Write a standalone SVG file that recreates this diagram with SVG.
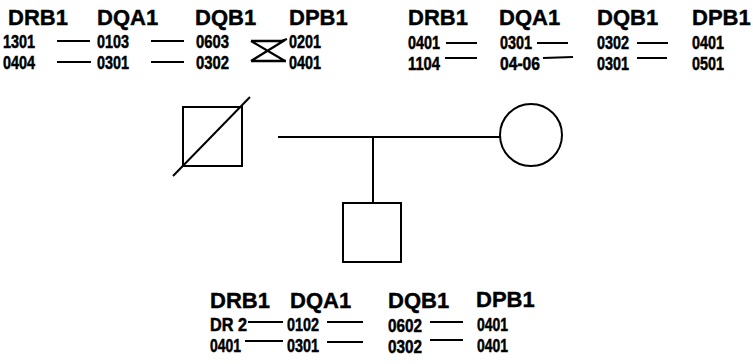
<svg xmlns="http://www.w3.org/2000/svg" width="753" height="364" viewBox="0 0 753 364">
  <style>
    .hd { font-family: "Liberation Sans", Arial, sans-serif; font-weight: bold; font-size: 22px; fill: #000; stroke: #000; stroke-width: 0.4; }
    .al { font-family: "Liberation Sans", Arial, sans-serif; font-weight: bold; font-size: 18.5px; fill: #000; stroke: #000; stroke-width: 0.5; }
    .ln { stroke: #000; stroke-width: 2; fill: none; }
    .sym { stroke: #000; stroke-width: 2; fill: #fff; }
  </style>
  <rect width="753" height="364" fill="#fff"/>

  <!-- Father's HLA haplotypes -->
  <g id="father-haplotypes">
    <text class="hd" x="8" y="25">DRB1</text>
    <text class="hd" x="97" y="25">DQA1</text>
    <text class="hd" x="195" y="25">DQB1</text>
    <text class="hd" x="289" y="25">DPB1</text>
    <text class="al" x="3" y="48" textLength="32" lengthAdjust="spacingAndGlyphs">1301</text>
    <text class="al" x="3" y="69" textLength="32" lengthAdjust="spacingAndGlyphs">0404</text>
    <text class="al" x="97" y="48" textLength="32" lengthAdjust="spacingAndGlyphs">0103</text>
    <text class="al" x="97" y="69" textLength="32" lengthAdjust="spacingAndGlyphs">0301</text>
    <text class="al" x="196" y="48" textLength="33" lengthAdjust="spacingAndGlyphs">0603</text>
    <text class="al" x="196" y="69" textLength="33" lengthAdjust="spacingAndGlyphs">0302</text>
    <text class="al" x="289" y="48" textLength="32" lengthAdjust="spacingAndGlyphs">0201</text>
    <text class="al" x="289" y="69" textLength="32" lengthAdjust="spacingAndGlyphs">0401</text>
  </g>

  <!-- Mother's HLA haplotypes -->
  <g id="mother-haplotypes">
    <text class="hd" x="408" y="25">DRB1</text>
    <text class="hd" x="499" y="25">DQA1</text>
    <text class="hd" x="597" y="25">DQB1</text>
    <text class="hd" x="692" y="25">DPB1</text>
    <text class="al" x="408" y="49" textLength="32" lengthAdjust="spacingAndGlyphs">0401</text>
    <text class="al" x="408" y="70" textLength="32" lengthAdjust="spacingAndGlyphs">1104</text>
    <text class="al" x="500" y="49" textLength="32" lengthAdjust="spacingAndGlyphs">0301</text>
    <text class="al" x="500" y="70" textLength="40" lengthAdjust="spacingAndGlyphs">04-06</text>
    <text class="al" x="597" y="49" textLength="32" lengthAdjust="spacingAndGlyphs">0302</text>
    <text class="al" x="597" y="70" textLength="32" lengthAdjust="spacingAndGlyphs">0301</text>
    <text class="al" x="692" y="49" textLength="32" lengthAdjust="spacingAndGlyphs">0401</text>
    <text class="al" x="692" y="70" textLength="32" lengthAdjust="spacingAndGlyphs">0501</text>
  </g>

  <!-- Son's HLA haplotypes -->
  <g id="son-haplotypes">
    <text class="hd" x="210" y="308">DRB1</text>
    <text class="hd" x="290" y="308">DQA1</text>
    <text class="hd" x="388" y="308">DQB1</text>
    <text class="hd" x="476" y="307">DPB1</text>
    <text class="al" x="210" y="331" textLength="37" lengthAdjust="spacingAndGlyphs">DR 2</text>
    <text class="al" x="210" y="352" textLength="31" lengthAdjust="spacingAndGlyphs">0401</text>
    <text class="al" x="287" y="331" textLength="32" lengthAdjust="spacingAndGlyphs">0102</text>
    <text class="al" x="287" y="352" textLength="32" lengthAdjust="spacingAndGlyphs">0301</text>
    <text class="al" x="388" y="332" textLength="34" lengthAdjust="spacingAndGlyphs">0602</text>
    <text class="al" x="388" y="353" textLength="34" lengthAdjust="spacingAndGlyphs">0302</text>
    <text class="al" x="477" y="331" textLength="31" lengthAdjust="spacingAndGlyphs">0401</text>
    <text class="al" x="477" y="352" textLength="31" lengthAdjust="spacingAndGlyphs">0401</text>
  </g>

  <!-- Pedigree symbols -->
  <g id="father">
    <rect class="sym" x="183" y="107" width="59" height="59"/>
    <line class="ln" x1="173" y1="176" x2="250" y2="97" stroke-width="2.5"/>
  </g>
  <g id="mother">
    <circle class="sym" cx="531" cy="135" r="31"/>
  </g>
  <g id="son">
    <rect class="sym" x="343" y="203" width="58" height="59"/>
  </g>

  <!-- Connectors: haplotype links and pedigree lines -->
  <g id="connectors" class="ln">
    <!-- father -->
    <line x1="57" y1="41" x2="90" y2="41"/>
    <line x1="151" y1="41" x2="184" y2="41"/>
    <line x1="57" y1="62" x2="91" y2="62"/>
    <line x1="151" y1="62" x2="184" y2="62"/>
    <path d="M251 41 H281 L287 39 M251 61 H286 M251 41 L285 61 M251 61 L285 40" stroke-width="2.3"/>
    <!-- mother -->
    <line x1="446" y1="43" x2="477" y2="43"/>
    <line x1="537" y1="43" x2="568" y2="43"/>
    <line x1="637" y1="43" x2="668" y2="43"/>
    <line x1="445" y1="58" x2="477" y2="58"/>
    <line x1="543" y1="58" x2="573" y2="57"/>
    <line x1="637" y1="58" x2="667" y2="58"/>
    <!-- son -->
    <line x1="248" y1="322" x2="283" y2="322"/>
    <line x1="327" y1="322" x2="363" y2="322"/>
    <line x1="430" y1="322" x2="463" y2="322"/>
    <line x1="245" y1="341" x2="283" y2="341"/>
    <line x1="327" y1="342" x2="363" y2="342"/>
    <line x1="430" y1="340" x2="463" y2="340"/>
    <!-- pedigree -->
    <line x1="278" y1="137" x2="500" y2="137"/>
    <line x1="373" y1="137" x2="373" y2="203"/>
  </g>
</svg>
